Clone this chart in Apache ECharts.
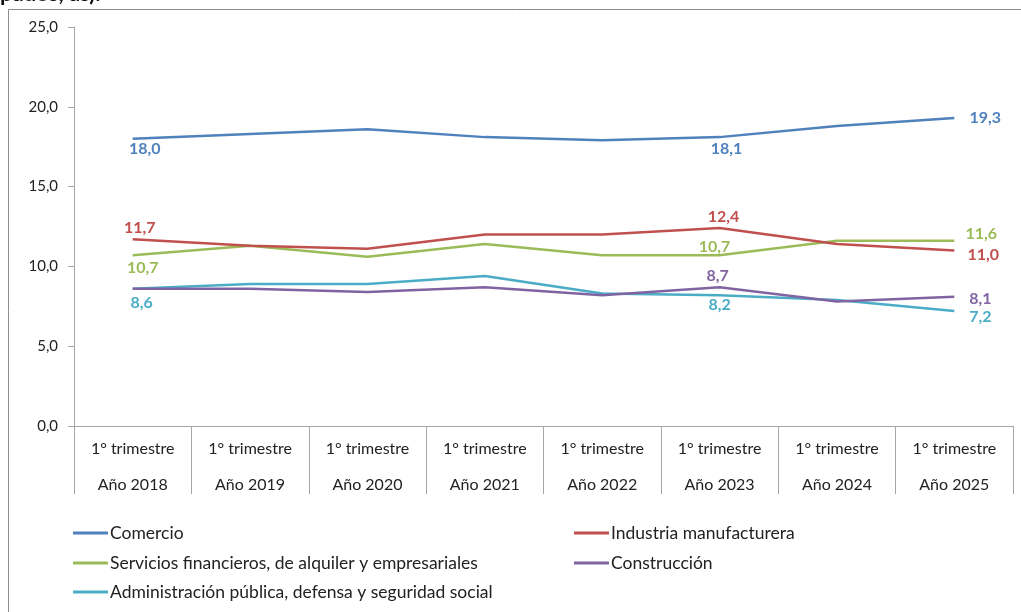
<!DOCTYPE html>
<html><head><meta charset="utf-8">
<script src="https://cdn.jsdelivr.net/npm/echarts@6/dist/echarts.min.js"></script>
<style>html,body{margin:0;padding:0;background:#fff;}#c{width:1021px;height:612px;}</style>
</head><body><div id="c"></div>
<script>
const categories = ['1° trimestre\nAño 2018','1° trimestre\nAño 2019','1° trimestre\nAño 2020','1° trimestre\nAño 2021','1° trimestre\nAño 2022','1° trimestre\nAño 2023','1° trimestre\nAño 2024','1° trimestre\nAño 2025'];
const comercio = [18.0, 18.3, 18.6, 18.1, 17.9, 18.1, 18.8, 19.3];
const industria = [11.7, 11.3, 11.1, 12.0, 12.0, 12.4, 11.4, 11.0];
const servicios = [10.7, 11.3, 10.6, 11.4, 10.7, 10.7, 11.6, 11.6];
const construccion = [8.6, 8.6, 8.4, 8.7, 8.2, 8.7, 7.8, 8.1];
const administracion = [8.6, 8.9, 8.9, 9.4, 8.3, 8.2, 7.9, 7.2];
const seriesNames = ['Comercio','Industria manufacturera','Servicios financieros, de alquiler y empresariales','Construcción','Administración pública, defensa y seguridad social'];
const yTicks = [0, 5, 10, 15, 20, 25];

const colors = ['#4F81BD','#C0504D','#9BBB59','#8064A2','#4BACC6'];
const fmt = v => v.toFixed(1).replace('.', ',');
const FONT = 'Lato, "Open Sans", sans-serif';

// label offsets (index -> [dx, dy]) per series
const labelSpecs = [
  {0:[12,10], 5:[7,12], 7:[31,0]},
  {0:[7,-11], 5:[4,-11], 7:[29,4]},
  {0:[10,13], 5:[-5,-8], 7:[27,-7]},
  {5:[-2,-11], 7:[26,2]},
  {0:[9,14], 5:[0,10], 7:[26,6]}
];
const allData = [comercio, industria, servicios, construccion, administracion];

const series = allData.map((arr, si) => ({
  name: seriesNames[si],
  type: 'line',
  color: colors[si],
  symbol: 'circle',
  symbolSize: 0,
  showSymbol: true,
  lineStyle: { width: 2.5, color: colors[si] },
  emphasis: { disabled: true },
  z: 10 - si,
  data: arr.map((v, i) => {
    const spec = labelSpecs[si][i];
    if (!spec) return { value: v, label: { show: false } };
    return { value: v, label: { show: true, position: 'inside', offset: spec,
      formatter: p => fmt(p.value), color: colors[si], fontWeight: 'bold', fontSize: 16, fontFamily: FONT } };
  })
}));

const legendPos = [[73, 523], [574, 523], [73, 553], [574, 553], [73, 582]];
const legends = seriesNames.map((n, i) => ({
  data: [{ name: n, itemStyle: { color: colors[i], opacity: 1 } }], left: legendPos[i][0], top: legendPos[i][1], icon: 'rect', itemWidth: 35, itemHeight: 3, itemGap: 0,
  selectedMode: false, textStyle: { fontSize: 17.5, fontFamily: FONT, color: '#222', lineHeight: 20, padding: [0,0,0,-3] }, padding: 0
}));

const chart = echarts.init(document.getElementById('c'), null, { renderer: 'canvas' });
chart.setOption({
  animation: false,
  backgroundColor: '#fff',
  graphic: [
    { type: 'rect', shape: { x: 8.5, y: 9.5, width: 1200, height: 800 }, style: { fill: 'none', stroke: '#8c8c8c', lineWidth: 1 }, silent: true, z: -1 },
    { type: 'text', left: 0, top: -17, style: { text: 'pados, as).', font: 'bold 22px ' + FONT, fill: '#111' }, silent: true }
  ],
  legend: legends,
  grid: { left: 74, right: 8, top: 27, bottom: 186, containLabel: false },
  xAxis: {
    type: 'category', data: categories, boundaryGap: true,
    axisLine: { show: true, lineStyle: { color: '#a6a6a6', width: 1 } },
    axisTick: { show: true, alignWithLabel: false, interval: 0, length: 68, lineStyle: { color: '#a6a6a6' } },
    axisLabel: { interval: 0, margin: 5, fontSize: 16, lineHeight: 36, color: '#222', fontFamily: FONT }
  },
  yAxis: {
    type: 'value', min: yTicks[0], max: yTicks[yTicks.length - 1], interval: 5,
    axisLine: { show: true, lineStyle: { color: '#a6a6a6' } },
    axisTick: { show: true, length: 6, lineStyle: { color: '#a6a6a6' } },
    splitLine: { show: false },
    axisLabel: { formatter: v => fmt(v), fontSize: 15, color: '#222', margin: 16, fontFamily: FONT }
  },
  series: series
});
</script></body></html>
